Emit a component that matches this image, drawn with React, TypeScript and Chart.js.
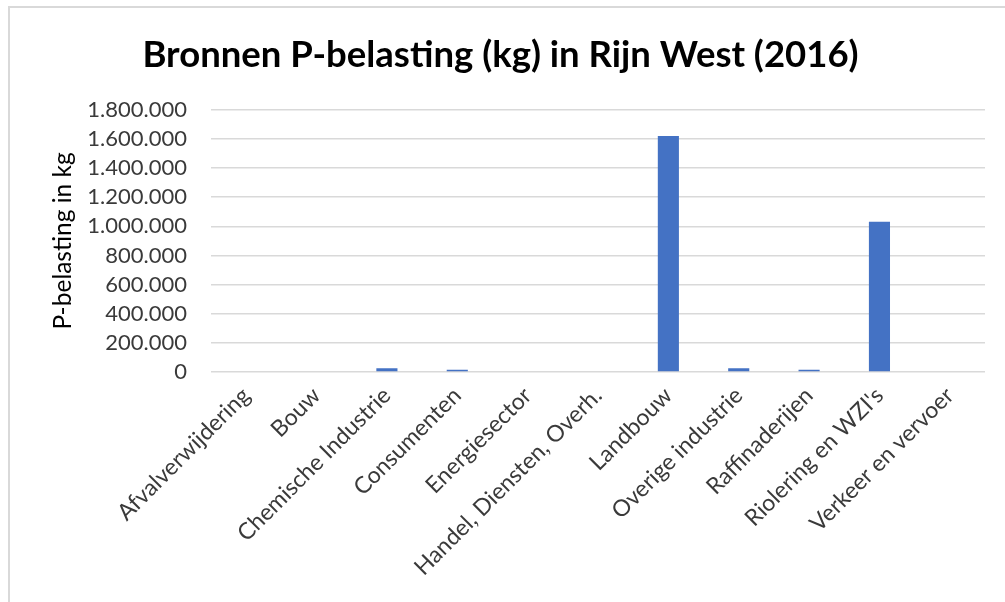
import React, { useEffect, useRef } from "react";
import { Chart, registerables } from "chart.js";

Chart.register(...registerables);

const categories = [
  "Afvalverwijdering",
  "Bouw",
  "Chemische Industrie",
  "Consumenten",
  "Energiesector",
  "Handel, Diensten, Overh.",
  "Landbouw",
  "Overige industrie",
  "Raffinaderijen",
  "Riolering en WZI's",
  "Verkeer en vervoer",
];

const pBelasting = [0, 0, 25000, 15000, 0, 0, 1620000, 25000, 15000, 1032000, 0];

const yTickValues = [0, 200000, 400000, 600000, 800000, 1000000, 1200000, 1400000, 1600000, 1800000];

const chartTitle = "Bronnen P-belasting (kg) in Rijn West (2016)";
const yAxisTitle = "P-belasting in kg";

const fmt = (v: number) => (v === 0 ? "0" : v.toLocaleString("de-DE"));

export default function App() {
  const ref = useRef<HTMLCanvasElement | null>(null);

  useEffect(() => {
    if (!ref.current) return;
    const font = "Lato, 'Open Sans', sans-serif";
    const chart = new Chart(ref.current, {
      type: "bar",
      data: {
        labels: categories,
        datasets: [
          {
            data: pBelasting,
            backgroundColor: "#4472C4",
            barPercentage: 0.3,
            categoryPercentage: 1,
          },
        ],
      },
      options: {
        animation: false,
        responsive: false,
        maintainAspectRatio: false,
        layout: { padding: { left: 6, right: 20, top: 0, bottom: 0 } },
        plugins: {
          legend: { display: false },
          tooltip: { enabled: false },
          title: {
            display: true,
            text: chartTitle,
            color: "#000000",
            font: { family: font, size: 36.5, weight: "bold" },
            padding: { top: 25, bottom: 33 },
          },
        },
        scales: {
          x: {
            grid: { display: false, drawTicks: false },
            border: { display: false },
            ticks: {
              color: "#3a3a3a",
              font: { family: font, size: 23 },
              minRotation: 45,
              maxRotation: 45,
              padding: 10,
              autoSkip: false,
            },
            afterFit: (s: any) => {
              s.height = 230;
            },
          },
          y: {
            min: 0,
            max: 1800000,
            afterBuildTicks: (s: any) => {
              s.ticks = yTickValues.map((v) => ({ value: v }));
            },
            grid: { color: "#d9d9d9", lineWidth: 1.5, drawTicks: false },
            border: { display: false },
            ticks: {
              color: "#3a3a3a",
              font: { family: font, size: 22 },
              padding: 24,
              autoSkip: false,
              callback: (v: any) => fmt(Number(v)),
            },
            title: {
              display: true,
              text: yAxisTitle,
              color: "#000000",
              font: { family: font, size: 24.5 },
              padding: { top: 32, bottom: 0 },
            },
            afterFit: (s: any) => {
              s.width = 195;
            },
          },
        },
      },
    });
    return () => chart.destroy();
  }, []);

  return (
    <div
      style={{
        position: "absolute",
        left: 0,
        top: 0,
        width: 1005,
        height: 602,
        background: "#ffffff",
        overflow: "hidden",
      }}
    >
      <div
        style={{
          position: "absolute",
          left: 8,
          top: 6,
          width: 997,
          height: 596,
          borderLeft: "2px solid #d9d9d9",
          borderTop: "2px solid #d9d9d9",
          boxSizing: "border-box",
        }}
      >
        <canvas ref={ref} width={995} height={594} style={{ display: "block" }} />
      </div>
    </div>
  );
}
